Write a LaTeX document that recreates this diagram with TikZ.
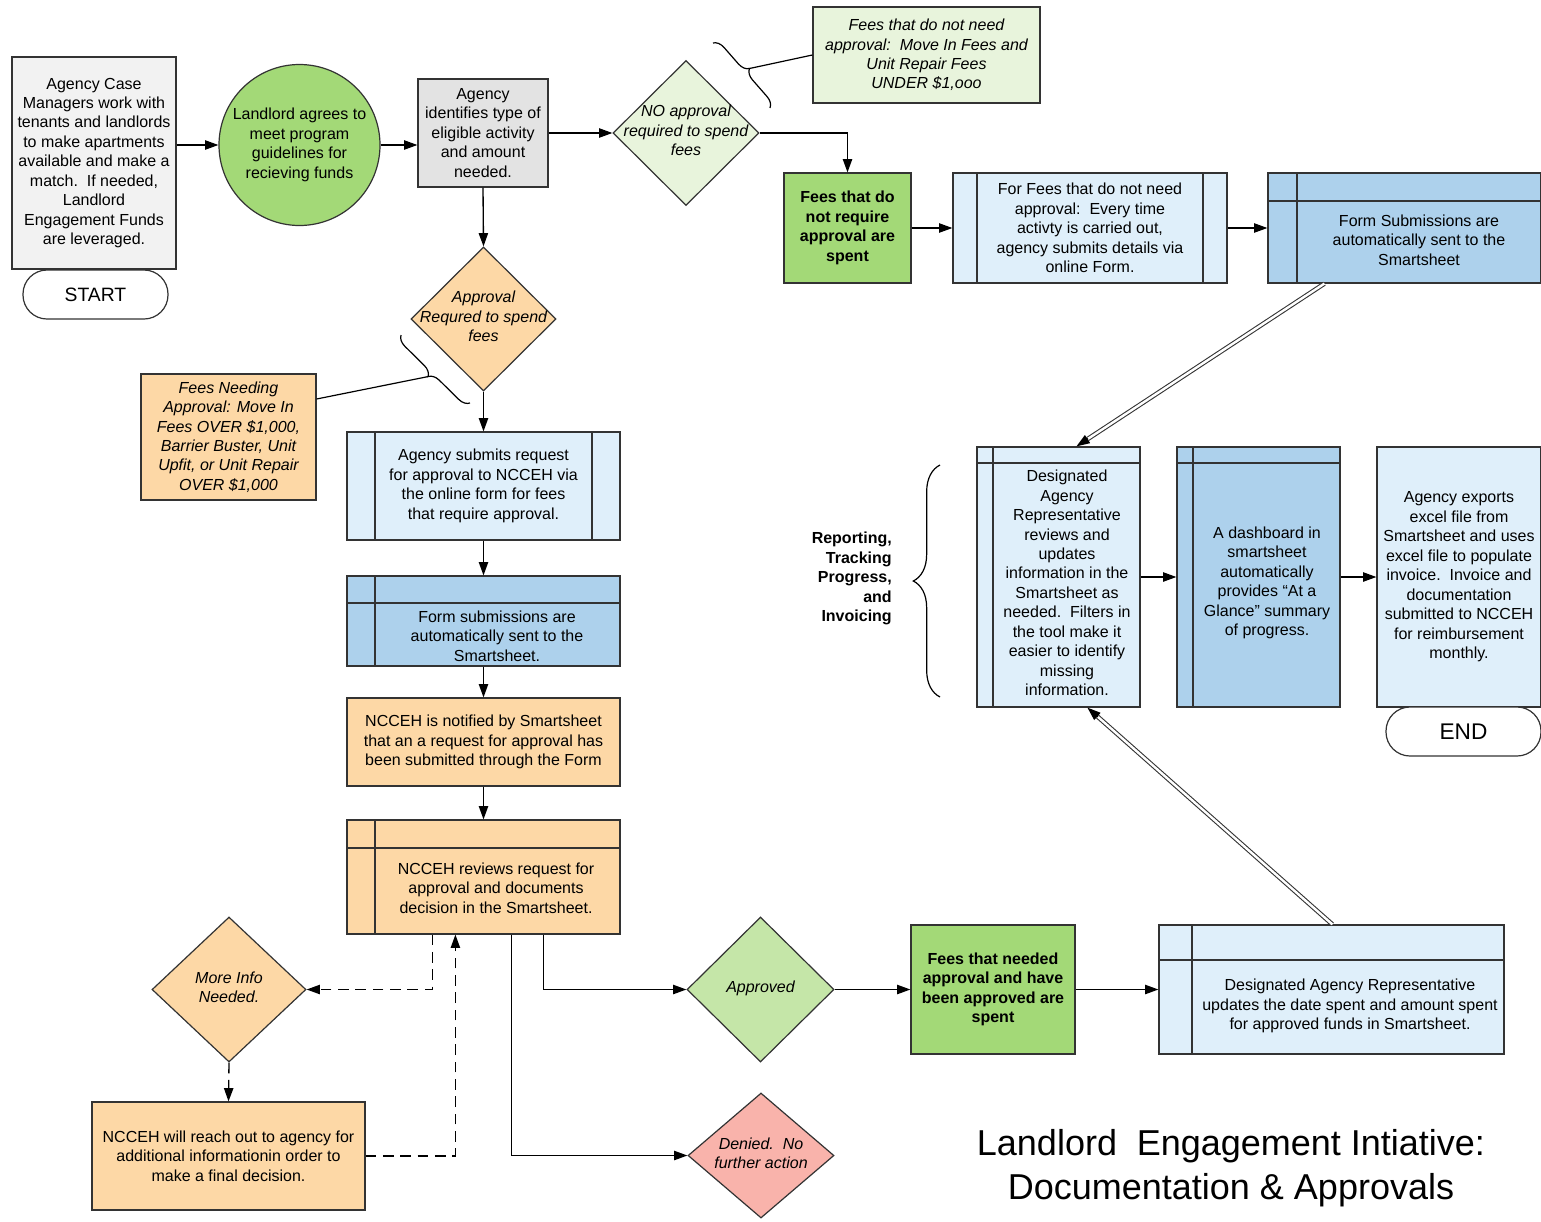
\documentclass[tikz,border=0pt]{standalone}
\usepackage{fontspec}
\setmainfont{Liberation Sans}
\usetikzlibrary{shapes.geometric,arrows.meta,decorations.pathreplacing,calc}
\definecolor{linec}{HTML}{333333}
\definecolor{grayA}{HTML}{F2F2F2}
\definecolor{grayB}{HTML}{E3E3E3}
\definecolor{greenD}{HTML}{A3D977}
\definecolor{greenL}{HTML}{C5E6A8}
\definecolor{greenXL}{HTML}{E8F4DC}
\definecolor{peach}{HTML}{FDD8A6}
\definecolor{blueL}{HTML}{DFEFFA}
\definecolor{blueM}{HTML}{ADD1EC}
\definecolor{pinkc}{HTML}{F9B3AB}
\newcommand{\dtext}[1]{\smash{\makebox[0pt]{\raisebox{-0.22em}{\begin{tabular}{@{}c@{}}#1\end{tabular}}}}}
\tikzset{
  bfont/.style={font=\fontsize{12}{14.6}\selectfont},
  base/.style={draw=linec, line width=0.9pt, inner sep=0pt, bfont},
  sz/.style 2 args={minimum width=#1*0.75pt, minimum height=#2*0.75pt},
  box/.style={base, rectangle, align=center},
  dia/.style={base, diamond},
  txt/.style={inner sep=0pt, align=center, bfont},
  twoside/.style={path picture={
      \draw[linec, line width=0.9pt] ([xshift=#1*0.75pt]path picture bounding box.north west) -- ([xshift=#1*0.75pt]path picture bounding box.south west);
      \draw[linec, line width=0.9pt] ([xshift=-#1*0.75pt]path picture bounding box.north east) -- ([xshift=-#1*0.75pt]path picture bounding box.south east);}},
  swim/.style 2 args={path picture={
      \draw[linec, line width=0.9pt] ([xshift=#1*0.75pt]path picture bounding box.north west) -- ([xshift=#1*0.75pt]path picture bounding box.south west);
      \draw[linec, line width=0.9pt] ([yshift=-#2*0.75pt]path picture bounding box.north west) -- ([yshift=-#2*0.75pt]path picture bounding box.north east);}},
  arr/.style={-{Triangle[length=10pt,width=7pt]}, line width=1pt, draw=black},
  darr/.style={arr, dash pattern=on 8pt off 5pt},
  dbl/.style={draw=linec, line width=0.8pt, double=white, double distance=1.8pt},
  brc/.style={draw=black, line width=0.9pt, decorate},
  stadium/.style={box, fill=white, rounded corners=18pt}
}
\begin{document}
\begin{tikzpicture}[x=0.75pt,y=-0.75pt]
\useasboundingbox (0,0) rectangle (1541,1221);
\fill[white] (0,0) rectangle (1541,1221);

% ---- top row
\node[box, sz={164}{212}, fill=grayA] (sb) at (94,163) {Agency Case\\Managers work with\\tenants and landlords\\to make apartments\\available and make a\\match.\ \ If needed,\\Landlord\\Engagement Funds\\are leveraged.};
\node[stadium, sz={145}{49}, font=\fontsize{14.5}{17}\selectfont] (st) at (95.5,294.5) {START};
\node[base, circle, align=center, minimum size=161*0.75pt, fill=greenD] (lc) at (299.5,145) {Landlord agrees to\\meet program\\guidelines for\\recieving funds};
\node[box, sz={130}{108}, fill=grayB] (gi) at (483,133) {Agency\\identifies type of\\eligible activity\\and amount\\needed.};
\node[dia, sz={146}{145}, fill=greenXL, font=\fontsize{12}{14.6}\selectfont\itshape] (nd) at (686,133) {\dtext{NO approval\\required to spend\\fees}};
\node[box, sz={227}{96}, fill=greenXL, font=\fontsize{12}{14.6}\selectfont\itshape] (ng) at (926.5,55) {Fees that do not need\\approval:\ \ Move In Fees and\\Unit Repair Fees\\UNDER \$1,ooo};
\node[box, sz={127}{110}, fill=greenD, font=\fontsize{12}{14.6}\selectfont\bfseries] (gb) at (847.5,228) {Fees that do\\not require\\approval are\\spent};
\node[box, sz={274}{110}, fill=blueL, twoside=24] (ff) at (1090,228) {For Fees that do not need\\approval:\ \ Every time\\activty is carried out,\\agency submits details via\\online Form.};
\node[box, sz={273}{110}, fill=blueM, swim={29}{28}] (fs) at (1404.5,228) {};
\node[txt] (fst) at (1419,240) {Form Submissions are\\automatically sent to the\\Smartsheet};

% ---- left column
\node[dia, sz={145}{144}, fill=peach, font=\fontsize{12}{14.6}\selectfont\itshape] (ad) at (483.5,319) {\dtext{Approval\\Requred to spend\\fees}};
\node[box, sz={175}{126}, fill=peach, font=\fontsize{12}{14.6}\selectfont\itshape] (nl) at (228.5,437) {Fees Needing\\Approval: Move In\\Fees OVER \$1,000,\\Barrier Buster, Unit\\Upfit, or Unit Repair\\OVER \$1,000};
\node[box, sz={273}{108}, fill=blueL, twoside=28] (as) at (483.5,486) {Agency submits request\\for approval to NCCEH via\\the online form for fees\\that require approval.};
\node[box, sz={273}{90}, fill=blueM, swim={28}{27}] (fsb) at (483.5,621) {};
\node[txt] (fsbt) at (497,636) {Form submissions are\\automatically sent to the\\Smartsheet.};
\node[box, sz={273}{88}, fill=peach] (nn) at (483.5,742) {NCCEH is notified by Smartsheet\\that an a request for approval has\\been submitted through the Form};
\node[box, sz={273}{114}, fill=peach, swim={28}{28}] (nr) at (483.5,877) {};
\node[txt] (nrt) at (496,888) {NCCEH reviews request for\\approval and documents\\decision in the Smartsheet.};
\node[dia, sz={154}{145}, fill=peach, font=\fontsize{12}{14.6}\selectfont\itshape] (mi) at (229,989.5) {\dtext{More Info\\Needed.}};
\node[box, sz={273}{108}, fill=peach] (ro) at (228.5,1156) {NCCEH will reach out to agency for\\additional informationin order to\\make a final decision.};

% ---- bottom row
\node[dia, sz={147}{145}, fill=greenL, font=\fontsize{12}{14.6}\selectfont\itshape] (ap) at (760.5,989.5) {\dtext{Approved}};
\node[dia, sz={146}{125}, fill=pinkc, font=\fontsize{12}{14.6}\selectfont\itshape] (dn) at (761,1155.5) {\dtext{Denied.\ \ No\\further action}};
\node[box, sz={164}{129}, fill=greenD, font=\fontsize{12}{14.6}\selectfont\bfseries] (g2) at (993,989.5) {Fees that needed\\approval and have\\been approved are\\spent};
\node[box, sz={345}{129}, fill=blueL, swim={33}{35}] (du) at (1331.5,989.5) {};
\node[txt] (dut) at (1350,1006) {Designated Agency Representative\\updates the date spent and amount spent\\for approved funds in Smartsheet.};

% ---- reporting row
\node[box, sz={163}{260}, fill=blueL, swim={16}{16}] (dr) at (1058.5,577) {};
\node[txt] (drt) at (1067,583) {Designated\\Agency\\Representative\\reviews and\\updates\\information in the\\Smartsheet as\\needed.\ \ Filters in\\the tool make it\\easier to identify\\missing\\information.};
\node[box, sz={163}{260}, fill=blueM, swim={16}{16}] (db) at (1258.5,577) {};
\node[txt] (dbt) at (1267,583) {A dashboard in\\smartsheet\\automatically\\provides ``At a\\Glance'' summary\\of progress.};
\node[box, sz={164}{260}, fill=blueL] (ae) at (1459,577) {Agency exports\\excel file from\\Smartsheet and uses\\excel file to populate\\invoice.\ \ Invoice and\\documentation\\submitted to NCCEH\\for reimbursement\\monthly.};
\node[stadium, sz={155}{49}, font=\fontsize{17}{20}\selectfont] (en) at (1463.5,731.5) {END};
\node[txt, align=right, anchor=east, font=\fontsize{12}{14.6}\selectfont\bfseries] (lbl) at (892,578.5) {Reporting,\\Tracking\\Progress,\\and\\Invoicing};

% ---- title
\node[txt, font=\fontsize{27}{33}\selectfont] (title) at (1231,1168) {Landlord\hspace{0.55em}Engagement Intiative:\\Documentation \& Approvals};

% ---- braces and note links
\draw[brc, decoration={brace, amplitude=8pt}] (713,43) -- (770,108);
\coordinate (bt1) at (749.5,68.5);
\draw[line width=0.9pt] (bt1) -- (ng.west);
\draw[brc, decoration={brace, amplitude=8pt}] (470,403) -- (401,335);
\coordinate (bt2) at (428,376.6);
\draw[line width=0.9pt] (bt2) -- ([yshift=28.5pt]nl.east);
\draw[brc, decoration={brace, amplitude=20pt}] (940,697) -- (940,465);

% ---- connectors
\draw[arr] (sb.east |- lc.west) -- (lc.west);
\draw[arr] (lc.east) -- (lc.east -| gi.west);
\draw[arr] (gi.east) -- (nd.west);
\draw[arr] (gi.south) -- (ad.north);
\draw[arr] (nd.east) -| (gb.north);
\draw[arr] (gb.east) -- (ff.west);
\draw[arr] (ff.east) -- (fs.west);
\draw[arr] (ad.south) -- (as.north);
\draw[arr] (as.south) -- (fsb.north);
\draw[arr] (fsb.south) -- (nn.north);
\draw[arr] (nn.south) -- (nr.north);
\draw[darr] ([xshift=86*0.75pt]nr.south west) |- (mi.east);
\draw[darr] (mi.south) -- (ro.north);
\draw[darr] (ro.east) -| ([xshift=109*0.75pt]nr.south west);
\draw[arr] ([xshift=165*0.75pt]nr.south west) |- (dn.west);
\draw[arr] ([xshift=197*0.75pt]nr.south west) |- (ap.west);
\draw[arr] (ap.east) -- (g2.west);
\draw[arr] (g2.east) -- (du.west);
\draw[arr] (dr.east) -- (db.west);
\draw[arr] (db.east) -- (ae.west);

\coordinate (d1s) at ([xshift=57*0.75pt]fs.south west);
\coordinate (d1e) at ([xshift=100*0.75pt]dr.north west);
\draw[dbl] (d1s) -- ($(d1e)!10pt!(d1s)$);
\draw[arr] ($(d1e)!10.5pt!(d1s)$) -- (d1e);
\coordinate (d2s) at ([xshift=174*0.75pt]du.north west);
\coordinate (d2e) at ([xshift=111*0.75pt]dr.south west);
\draw[dbl] (d2s) -- ($(d2e)!10pt!(d2s)$);
\draw[arr] ($(d2e)!10.5pt!(d2s)$) -- (d2e);
\end{tikzpicture}
\end{document}
